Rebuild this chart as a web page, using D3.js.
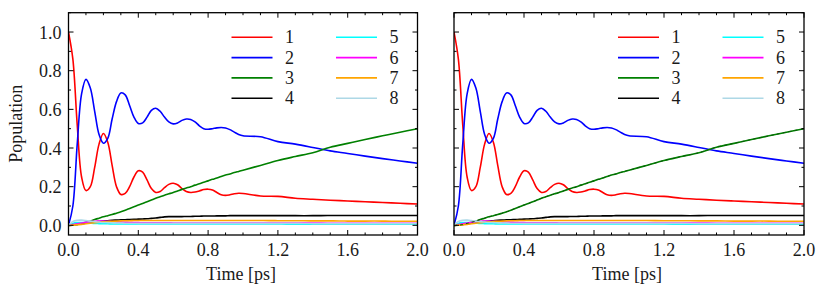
<!DOCTYPE html>
<html>
<head>
<meta charset="utf-8">
<script src="https://cdn.jsdelivr.net/npm/d3@7"></script>
<style>
  body { margin: 0; background: #fff; }
</style>
</head>
<body>
<div id="chart"></div>
<script>
// time grid (ps): fine steps early, coarser later
const times = [0, 0.025, 0.05, 0.075, 0.1, 0.125, 0.15, 0.175, 0.2, 0.225, 0.25, 0.275, 0.3, 0.325, 0.35, 0.375,
  0.4, 0.425, 0.45, 0.475, 0.5, 0.525, 0.55, 0.575, 0.6, 0.625, 0.65, 0.675, 0.7, 0.725, 0.75, 0.775,
  0.8, 0.825, 0.85, 0.875, 0.9, 0.925, 0.95, 0.975, 1.0, 1.1, 1.2, 1.3, 1.4, 1.5, 1.6, 1.7, 1.8, 1.9, 2.0];

const pop1 = [1.0, 0.86, 0.52, 0.25, 0.18, 0.2, 0.3, 0.42, 0.475, 0.43, 0.31, 0.2, 0.16, 0.165, 0.2, 0.25,
  0.282, 0.275, 0.235, 0.19, 0.17, 0.175, 0.195, 0.212, 0.218, 0.21, 0.19, 0.175, 0.17, 0.172, 0.178, 0.185,
  0.187, 0.183, 0.17, 0.158, 0.155, 0.158, 0.163, 0.166, 0.165, 0.152, 0.15, 0.14, 0.135, 0.13, 0.126, 0.122, 0.118, 0.114, 0.11];

const pop2 = [0, 0.1, 0.42, 0.68, 0.755, 0.71, 0.59, 0.47, 0.425, 0.45, 0.55, 0.64, 0.685, 0.675, 0.62, 0.56,
  0.527, 0.53, 0.56, 0.595, 0.606, 0.59, 0.56, 0.535, 0.525, 0.53, 0.543, 0.55, 0.548, 0.535, 0.515, 0.5,
  0.497, 0.5, 0.504, 0.506, 0.504, 0.495, 0.482, 0.47, 0.463, 0.458, 0.433, 0.42, 0.403, 0.385, 0.372, 0.358, 0.345, 0.333, 0.321];

const pop3 = [0, 0.001, 0.004, 0.01, 0.016, 0.022, 0.03, 0.037, 0.044, 0.05, 0.056, 0.063, 0.07, 0.078, 0.087, 0.096,
  0.105, 0.113, 0.122, 0.131, 0.14, 0.148, 0.156, 0.163, 0.17, 0.178, 0.186, 0.193, 0.2, 0.208, 0.215, 0.223,
  0.23, 0.238, 0.245, 0.253, 0.26, 0.266, 0.273, 0.279, 0.285, 0.31, 0.335, 0.356, 0.376, 0.404, 0.424, 0.444, 0.463, 0.482, 0.5];

const pop4 = [0, 0.002, 0.005, 0.008, 0.012, 0.015, 0.018, 0.02, 0.022, 0.024, 0.026, 0.027, 0.028, 0.029, 0.03, 0.031,
  0.032, 0.033, 0.034, 0.036, 0.038, 0.041, 0.044, 0.045, 0.045, 0.045, 0.045, 0.046, 0.046, 0.047, 0.047, 0.048,
  0.048, 0.048, 0.049, 0.049, 0.049, 0.05, 0.05, 0.05, 0.05, 0.05, 0.05, 0.05, 0.05, 0.051, 0.051, 0.051, 0.051, 0.051, 0.051];

const pop5 = [0, 0.01, 0.014, 0.015, 0.014, 0.012, 0.01, 0.009, 0.008, 0.008, 0.007, 0.007, 0.007, 0.007, 0.007, 0.007,
  0.007, 0.007, 0.007, 0.007, 0.007, 0.007, 0.007, 0.007, 0.007, 0.007, 0.007, 0.007, 0.007, 0.007, 0.007, 0.007,
  0.007, 0.007, 0.007, 0.007, 0.007, 0.007, 0.007, 0.007, 0.007, 0.007, 0.007, 0.006, 0.006, 0.006, 0.006, 0.006, 0.006, 0.006, 0.006];

const pop6 = [0, 0.004, 0.008, 0.012, 0.016, 0.019, 0.021, 0.022, 0.022, 0.021, 0.02, 0.018, 0.017, 0.016, 0.015, 0.014,
  0.014, 0.013, 0.013, 0.013, 0.013, 0.013, 0.013, 0.013, 0.012, 0.012, 0.012, 0.012, 0.012, 0.012, 0.012, 0.012,
  0.012, 0.012, 0.012, 0.012, 0.012, 0.012, 0.012, 0.012, 0.012, 0.012, 0.012, 0.012, 0.012, 0.011, 0.011, 0.011, 0.011, 0.011, 0.011];

const pop7 = [0, 0.001, 0.003, 0.005, 0.008, 0.011, 0.014, 0.016, 0.018, 0.02, 0.021, 0.022, 0.023, 0.024, 0.024, 0.025,
  0.025, 0.025, 0.025, 0.025, 0.025, 0.025, 0.025, 0.025, 0.025, 0.025, 0.025, 0.025, 0.025, 0.025, 0.025, 0.025,
  0.025, 0.025, 0.025, 0.025, 0.025, 0.025, 0.025, 0.025, 0.025, 0.025, 0.024, 0.024, 0.023, 0.023, 0.022, 0.022, 0.022, 0.021, 0.021];

const pop8 = [0, 0.02, 0.026, 0.027, 0.025, 0.022, 0.019, 0.017, 0.015, 0.014, 0.013, 0.012, 0.012, 0.011, 0.011, 0.011,
  0.01, 0.01, 0.01, 0.01, 0.01, 0.01, 0.01, 0.01, 0.01, 0.01, 0.01, 0.01, 0.01, 0.01, 0.01, 0.01,
  0.01, 0.01, 0.01, 0.01, 0.01, 0.01, 0.01, 0.01, 0.01, 0.01, 0.01, 0.01, 0.009, 0.009, 0.009, 0.009, 0.009, 0.009, 0.009];

const seriesNames = ['1', '2', '3', '4', '5', '6', '7', '8'];
const seriesColors = ['#ff0000', '#0000ff', '#008000', '#000000', '#00ffff', '#ff00ff', '#ffa500', '#add8e6'];
const seriesValues = [pop1, pop2, pop3, pop4, pop5, pop6, pop7, pop8];

const xTicks = [0, 0.4, 0.8, 1.2, 1.6, 2.0];
const yTicks = [0, 0.2, 0.4, 0.6, 0.8, 1.0];

const W = 830, H = 298;
const FS = 18;
const svg = d3.select('#chart').append('svg')
  .attr('width', W).attr('height', H)
  .attr('font-family', "'Liberation Serif', serif");

const plotTop = 12.7, plotBottom = 235;
const panels = [
  { left: 68.5, right: 417.5, yLabels: true, overlay: false },
  { left: 454, right: 804, yLabels: false, overlay: true }
];

panels.forEach((p, pi) => {
  const x = d3.scaleLinear().domain([0, 2]).range([p.left, p.right]);
  const y = d3.scaleLinear().domain([-0.05, 1.1]).range([plotBottom, plotTop]);
  const g = svg.append('g');

  const clipId = 'clip' + pi;
  g.append('clipPath').attr('id', clipId)
    .append('rect').attr('x', p.left).attr('y', plotTop)
    .attr('width', p.right - p.left).attr('height', plotBottom - plotTop);

  const line = d3.line()
    .x((d, i) => x(times[i]))
    .y((d) => y(d))
    .curve(d3.curveCatmullRom.alpha(0.5));

  const plot = g.append('g').attr('clip-path', `url(#${clipId})`);
  seriesValues.forEach((vals, k) => {
    plot.append('path')
      .attr('d', line(vals))
      .attr('fill', 'none')
      .attr('stroke', seriesColors[k])
      .attr('stroke-width', 1.6);
  });

  // second-method comparison overlay on the right panel
  if (p.overlay) {
    plot.append('path')
      .attr('d', line(pop3))
      .attr('fill', 'none')
      .attr('stroke', '#0a5a0a')
      .attr('stroke-width', 1)
      .attr('stroke-dasharray', '3,3');
  }

  // ticks, inward on all four sides
  const xMinor = d3.range(0, 2.0001, 0.1);
  const yMinor = d3.range(0, 1.1001, 0.1);
  const tickG = g.append('g').attr('stroke', '#000').attr('stroke-width', 1);
  xMinor.forEach((t) => {
    const major = xTicks.some((m) => Math.abs(m - t) < 1e-6);
    const len = major ? 5 : 2.5;
    tickG.append('line').attr('x1', x(t)).attr('x2', x(t)).attr('y1', plotBottom).attr('y2', plotBottom - len);
    tickG.append('line').attr('x1', x(t)).attr('x2', x(t)).attr('y1', plotTop).attr('y2', plotTop + len);
  });
  yMinor.forEach((v) => {
    const major = yTicks.some((m) => Math.abs(m - v) < 1e-6);
    const len = major ? 5 : 2.5;
    tickG.append('line').attr('y1', y(v)).attr('y2', y(v)).attr('x1', p.left).attr('x2', p.left + len);
    tickG.append('line').attr('y1', y(v)).attr('y2', y(v)).attr('x1', p.right).attr('x2', p.right - len);
  });

  g.append('rect')
    .attr('x', p.left).attr('y', plotTop)
    .attr('width', p.right - p.left).attr('height', plotBottom - plotTop)
    .attr('fill', 'none').attr('stroke', '#000').attr('stroke-width', 1.3);

  g.selectAll('.xl').data(xTicks).enter().append('text')
    .attr('x', (d) => x(d)).attr('y', plotBottom + 20.5)
    .attr('text-anchor', 'middle').attr('font-size', FS).attr('fill', '#1a1a1a')
    .text((d) => d.toFixed(1));

  if (p.yLabels) {
    g.selectAll('.yl').data(yTicks).enter().append('text')
      .attr('x', p.left - 7).attr('y', (d) => y(d) + 6.5)
      .attr('text-anchor', 'end').attr('font-size', FS).attr('fill', '#1a1a1a')
      .text((d) => d.toFixed(1));
    g.append('text')
      .attr('transform', `translate(22,${(plotTop + plotBottom) / 2}) rotate(-90)`)
      .attr('text-anchor', 'middle').attr('font-size', FS).attr('fill', '#1a1a1a')
      .text('Population');
  }

  g.append('text')
    .attr('x', (p.left + p.right) / 2 - 2).attr('y', plotBottom + 45)
    .attr('text-anchor', 'middle').attr('font-size', FS).attr('fill', '#1a1a1a')
    .text('Time [ps]');

  // legend, two columns of four
  const legX = p.right - 186, rowH = 20.3, legY = 37.3;
  seriesNames.forEach((name, k) => {
    const col = Math.floor(k / 4), row = k % 4;
    const lx = legX + col * 104.5;
    const ly = legY + row * rowH;
    g.append('line')
      .attr('x1', lx).attr('x2', lx + 41)
      .attr('y1', ly).attr('y2', ly)
      .attr('stroke', seriesColors[k]).attr('stroke-width', 1.6);
    g.append('text')
      .attr('x', lx + 58).attr('y', ly + 6)
      .attr('text-anchor', 'middle').attr('font-size', FS).attr('fill', '#1a1a1a')
      .text(name);
  });
});
</script>
</body>
</html>
